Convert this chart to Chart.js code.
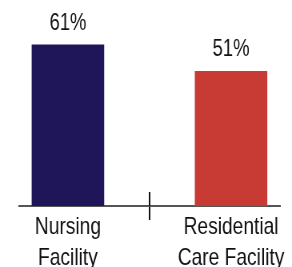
<!DOCTYPE html>
<html>
<head>
<meta charset="utf-8">
<script src="https://cdn.jsdelivr.net/npm/chart.js@4"></script>
<style>
  body { margin: 0; background: #fff; overflow: hidden; }
  /* the original uses a condensed face; none is installed, so the chart is
     drawn 1.25x wider and squeezed back to 292px */
  #wrap { width: 365px; height: 267px; position: relative; transform: scaleX(0.8); transform-origin: 0 0; }
</style>
</head>
<body>
<div id="wrap"><canvas id="mainCanvas"></canvas></div>
<script>
// chart data
const CATEGORIES = [["Nursing", "Facility"], ["Residential", "Care Facility"]];
const SHARES = [61, 51];
const BAR_COLORS = ["#1f1559", "#c83a34"];

const FONT = "'Liberation Sans', Arial, sans-serif";
const SQUEEZE = 1.25;

// the original spreads the two bars wide apart, so lay them on a finer
// category grid: 8 slots, bars in slots 1 and 6
const SLOTS = 8;
const BAR_SLOT = [1, 6];

const slotLabels = Array(SLOTS).fill("");
const slotValues = Array(SLOTS).fill(null);
const slotColors = Array(SLOTS).fill("transparent");
BAR_SLOT.forEach((slot, i) => {
  slotLabels[slot] = CATEGORIES[i];
  slotValues[slot] = SHARES[i];
  slotColors[slot] = BAR_COLORS[i];
});

/**
 * Writes the percentage above each bar and the upper half of the
 * middle tick mark
 */
const barLabels = {
  id: "barLabels",
  afterDatasetsDraw(chart) {
    const ctx = chart.ctx;
    const meta = chart.getDatasetMeta(0);
    const values = chart.data.datasets[0].data;

    ctx.save();
    ctx.font = "23px " + FONT;
    ctx.fillStyle = "#111";
    ctx.textAlign = "center";
    ctx.textBaseline = "alphabetic";
    meta.data.forEach((bar, i) => {
      if (values[i] == null) {
        return;
      }
      ctx.fillText(values[i] + "%", bar.x, bar.y - 15);
    });

    const x = chart.scales.x;
    const mid = Math.round((x.left + x.right) / 2);
    ctx.strokeStyle = "#111";
    ctx.lineWidth = 2;
    ctx.beginPath();
    ctx.moveTo(mid, x.top);
    ctx.lineTo(mid, x.top - 14);
    ctx.stroke();
    ctx.restore();
  },
};

const ctx = document.getElementById("mainCanvas").getContext("2d");

new Chart(ctx, {
  type: "bar",
  data: {
    labels: slotLabels,
    datasets: [{
      data: slotValues,
      backgroundColor: slotColors,
      barThickness: 72 * SQUEEZE,
      skipNull: true,
    }],
  },
  options: {
    responsive: true,
    maintainAspectRatio: false,
    animation: false,
    devicePixelRatio: 1,
    layout: {
      padding: { left: 19 * SQUEEZE, right: 12 * SQUEEZE, top: 21, bottom: 0 },
    },
    plugins: {
      legend: { display: false },
      tooltip: { enabled: false },
    },
    scales: {
      x: {
        grid: {
          drawOnChartArea: false,
          drawTicks: true,
          tickLength: 14,
          lineWidth: 2,
          color: (c) => (c.index === SLOTS / 2 ? "#111" : "transparent"),
        },
        border: { display: true, color: "#555", width: 2 },
        ticks: {
          autoSkip: false,
          maxRotation: 0,
          minRotation: 0,
          padding: -8,
          color: "#111",
          font: { family: FONT, size: 24, lineHeight: "31px" },
        },
        afterFit(scale) {
          scale.height = 61;
        },
      },
      y: {
        display: false,
        min: 0,
        max: 70,
      },
    },
  },
  plugins: [barLabels],
});
</script>
</body>
</html>
